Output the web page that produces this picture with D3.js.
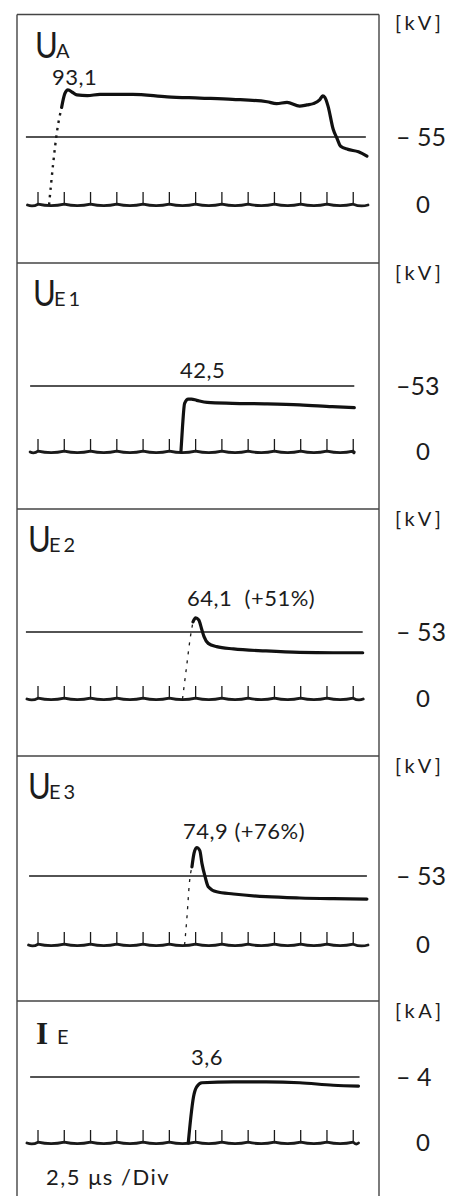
<!DOCTYPE html>
<html>
<head>
<meta charset="utf-8">
<script src="https://cdn.jsdelivr.net/npm/d3@7"></script>
<style>
    html, body { margin: 0; padding: 0; background: #fff; }
    svg { display: block; }
    text { font-family: Lato, "Open Sans", sans-serif; fill: #1c1c1c; }
</style>
</head>
<body>
<svg id="chart" width="463" height="1196"></svg>
<script>
// channel name: main letter + subscript
var channels = [["U", "A"], ["U", "E1"], ["U", "E2"], ["U", "E3"], ["I", "E"]];
var units = ["[kV]", "[kV]", "[kV]", "[kV]", "[kA]"];
var refLevels = [55, 53, 53, 53, 4];
var refTexts = ["\u2013 55", "\u201353", "\u2013 53", "\u2013 53", "\u2013 4"];
var peakTexts = ["93,1", "42,5", "64,1  (+51%)", "74,9 (+76%)", "3,6"];
var timeText = "2,5 \u03bcs /Div";

// timing markers, µs (2,5 µs per division)
var markerTimes = [0, 2.5, 5, 7.5, 10, 12.5, 15, 17.5, 20, 22.5, 25, 27.5, 30];

// extents (µs) of the zero trace and of the reference line in each panel
var baseExtents = [[-1.0, 31.4], [-0.75, 30.1], [-1.05, 30.95], [-0.9, 31.4], [-1.05, 30.5]];
var refExtents = [[-1.15, 31.2], [-0.75, 30.1], [-1.15, 30.9], [-0.85, 31.3], [-0.75, 30.6]];

// faint (dotted) fast rise, [µs, value]
var riseUA = [[1.05, 0], [1.45, 34], [1.8, 59], [2.25, 79]];
var riseUE2 = [[13.75, 0], [14.1, 23], [14.5, 49], [14.75, 61]];
var riseUE3 = [[13.95, 0], [14.2, 24], [14.4, 47], [14.65, 60]];

// traces, [µs, kV] or [µs, kA]
var traceUA = [[2.25, 79], [2.55, 90], [2.85, 93.1], [3.3, 91], [3.7, 89], [4.7, 88.5], [5.9, 89.5],
    [9.0, 89.5], [12.3, 87.5], [15.4, 86.5], [18.5, 85.5], [21.8, 83.5], [22.7, 82], [23.7, 83],
    [24.9, 80], [25.6, 81], [26.2, 82], [26.8, 85], [27.1, 88.2], [27.3, 87], [27.6, 80],
    [28.1, 61], [28.45, 54], [28.8, 47.5], [29.5, 45], [30.5, 43], [31.3, 39.5]];
var traceUE1 = [[13.6, 0], [13.75, 20], [13.95, 39], [14.3, 42.5], [14.6, 42.5], [15.1, 41.5],
    [16.1, 39.8], [18.5, 39.1], [21.8, 38.6], [24.9, 37.8], [28.0, 36.4], [30.1, 35.6]];
var traceUE2 = [[14.75, 61], [15.0, 64.1], [15.3, 62.5], [15.55, 56], [15.8, 49.3], [16.2, 44],
    [17.0, 41.4], [18.6, 39.6], [21.7, 38.0], [24.9, 36.9], [28.1, 36.6], [30.9, 36.6]];
var traceUE3 = [[14.65, 60], [14.85, 70.5], [15.1, 74.9], [15.4, 72.5], [15.6, 62.7], [15.9, 52.5],
    [16.2, 44.8], [17.0, 40.9], [18.6, 39.2], [21.7, 37.1], [24.9, 36.1], [28.1, 35.6], [31.3, 35.3]];
var traceIE = [[14.3, 0], [14.55, 1.6], [14.8, 2.8], [15.1, 3.4], [15.6, 3.65], [18.6, 3.7],
    [21.7, 3.7], [24.9, 3.65], [28.1, 3.5], [30.5, 3.45]];

var traces = [traceUA, traceUE1, traceUE2, traceUE3, traceIE];
var rises = [riseUA, null, riseUE2, riseUE3, null];

// layout
var frameLeft = 17, frameRight = 379, height = 1196;
var panelTops = [14.5, 263, 509, 756, 1001];
var zeroOffsets = [190.5, 189, 190, 189, 142];   // px below panel top
var refOffsets = [122.5, 123, 123, 120, 76];
var titleX = [35, 33, 28, 28, 36];
var peakPos = [[52, 70.5], [180, 115], [187, 97], [183, 83], [191, 64]]; // x, dy from top

var svg = d3.select("#chart");

var x = d3.scaleLinear().domain([-1, 31.5]).range([27.5, 369]);

// frame
var frame = svg.append("g").attr("stroke", "#444").attr("stroke-width", 1.4);
frame.append("line").attr("x1", frameLeft).attr("x2", frameLeft).attr("y1", panelTops[0]).attr("y2", height);
frame.append("line").attr("x1", frameRight).attr("x2", frameRight).attr("y1", panelTops[0]).attr("y2", height);
frame.selectAll("line.sep").data(panelTops).enter().append("line").attr("class", "sep")
    .attr("x1", frameLeft).attr("x2", frameRight)
    .attr("y1", function (d) { return d; }).attr("y2", function (d) { return d; });

panelTops.forEach(function (top, i) {
    var y = d3.scaleLinear().domain([0, refLevels[i]])
        .range([top + zeroOffsets[i], top + refOffsets[i]]);
    var g = svg.append("g");
    var y0 = y(0);

    // reference line
    g.append("line")
        .attr("x1", x(refExtents[i][0])).attr("x2", x(refExtents[i][1]))
        .attr("y1", y(refLevels[i])).attr("y2", y(refLevels[i]))
        .attr("stroke", "#1a1a1a").attr("stroke-width", 1.7);

    // zero trace with scalloped timing markers
    var ext = baseExtents[i];
    var pts = [ext[0]].concat(markerTimes.filter(function (t) { return t > ext[0] && t < ext[1]; }), [ext[1]]);
    var p = d3.path();
    p.moveTo(x(pts[0]), y0);
    for (var k = 1; k < pts.length; k++) {
        var xa = x(pts[k - 1]), xb = x(pts[k]);
        p.quadraticCurveTo((xa + xb) / 2, y0 + 2.2, xb, k < pts.length - 1 ? y0 - 0.8 : y0);
    }
    g.append("path").attr("d", p.toString())
        .attr("fill", "none").attr("stroke", "#1a1a1a").attr("stroke-width", 2.8)
        .attr("stroke-linejoin", "round").attr("stroke-linecap", "round");

    g.selectAll("line.tick").data(markerTimes).enter().append("line").attr("class", "tick")
        .attr("x1", function (d) { return x(d); }).attr("x2", function (d) { return x(d); })
        .attr("y1", y0 - 1).attr("y2", y0 - 13)
        .attr("stroke", "#1a1a1a").attr("stroke-width", 1.3);

    var line = d3.line()
        .x(function (d) { return x(d[0]); })
        .y(function (d) { return y(d[1]); })
        .curve(d3.curveMonotoneX);

    if (rises[i]) {
        g.append("path").datum(rises[i]).attr("d", line)
            .attr("fill", "none").attr("stroke", "#1a1a1a")
            .attr("stroke-width", i === 0 ? 2.4 : 1.3)
            .attr("stroke-dasharray", i === 0 ? "2.5,5" : "3,6");
    }

    g.append("path").datum(traces[i]).attr("d", line)
        .attr("fill", "none").attr("stroke", "#111").attr("stroke-width", 3.2)
        .attr("stroke-linejoin", "round").attr("stroke-linecap", "round");

    // channel title
    var ty = top + 43;
    if (channels[i][0] === "I") {
        g.append("text").attr("x", titleX[i]).attr("y", ty)
            .style("font-family", "'Liberation Serif', 'DejaVu Serif', serif")
            .style("font-size", "31px").style("font-weight", "bold").text(channels[i][0]);
        g.append("text").attr("x", titleX[i] + 21).attr("y", ty)
            .style("font-size", "20px").text(channels[i][1]);
    } else {
        g.append("text").attr("transform", "translate(" + titleX[i] + "," + ty + ") scale(0.84,1)")
            .style("font-size", "37px").text(channels[i][0]);
        g.append("text").attr("x", titleX[i] + 21).attr("y", ty)
            .style("font-size", "20px").style("letter-spacing", "3px").text(channels[i][1]);
    }

    // peak value
    g.append("text").attr("x", peakPos[i][0]).attr("y", top + peakPos[i][1])
        .style("font-size", "22px").style("letter-spacing", "0.5px").style("white-space", "pre")
        .text(peakTexts[i]);

    // right-hand scale
    g.append("text").attr("x", 395).attr("y", top + (i === 0 ? 15 : 16.5))
        .style("font-size", "20px").style("letter-spacing", "3.5px").text(units[i]);
    g.append("text").attr("x", 396).attr("y", y(refLevels[i]) + 9)
        .style("font-size", "25px").style("white-space", "pre").text(refTexts[i]);
    g.append("text").attr("x", 423).attr("y", y0 + 8).attr("text-anchor", "middle")
        .style("font-size", "24px").text("0");
});

svg.append("text").attr("x", 46).attr("y", 1185)
    .style("font-size", "22px").style("letter-spacing", "1.5px").text(timeText);
</script>
</body>
</html>
